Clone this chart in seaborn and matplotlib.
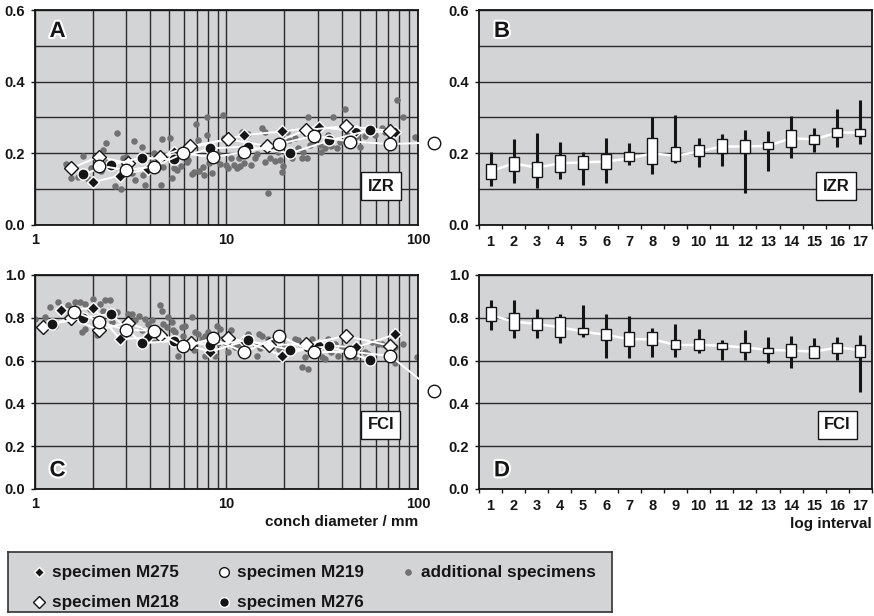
import matplotlib
matplotlib.use('Agg')  # headless
import numpy as np
import pandas as pd
import matplotlib.pyplot as plt
import matplotlib.patheffects as pe
from matplotlib.ticker import FixedLocator, NullFormatter, LogLocator
from matplotlib.lines import Line2D
import seaborn as sns

# ---- panel A (IZR vs conch diameter) ----
A_M275_d = [2.02, 2.78, 3.87, 5.35, 12.4, 19.5, 30.3, 47.6, 76.2]
A_M275_v = [0.120, 0.138, 0.157, 0.205, 0.251, 0.261, 0.274, 0.261, 0.260]
A_M218_d = [1.55, 2.15, 3.05, 4.47, 6.46, 10.2, 16.2, 26.1, 42.2, 71.1]
A_M218_v = [0.158, 0.191, 0.172, 0.191, 0.220, 0.239, 0.221, 0.265, 0.276, 0.263]
A_M219_d = [2.17, 2.99, 4.19, 5.96, 8.49, 12.4, 18.9, 28.5, 44.3, 71.7, 120.7]
A_M219_v = [0.166, 0.153, 0.163, 0.200, 0.189, 0.204, 0.226, 0.249, 0.233, 0.226, 0.230]
A_M276_d = [1.78, 2.50, 3.61, 5.35, 8.22, 13.0, 21.5, 34.5, 56.4]
A_M276_v = [0.142, 0.168, 0.188, 0.183, 0.214, 0.219, 0.200, 0.236, 0.265]

A_add_d = [1.46, 1.67, 1.79, 1.96, 2.27, 2.35, 2.67, 2.40, 2.62, 2.81, 2.89, 3.20, 3.30, 3.33,
           3.63, 3.68, 3.75, 3.94, 4.07, 4.55, 4.62, 5.07, 4.97, 4.68, 5.17, 5.49, 5.78, 6.03,
           6.32, 6.58, 6.79, 6.93, 7.13, 7.21, 7.57, 7.94, 7.94, 8.13, 8.71, 8.99, 9.25, 9.62,
           9.75, 9.91, 10.6, 11.0, 11.3, 11.6, 12.0, 12.4, 13.0, 13.5, 14.1, 14.5, 15.3, 15.8,
           15.9, 16.4, 16.9, 17.9, 19.0, 19.4, 19.8, 20.6, 21.2, 21.9, 22.8, 23.7, 24.7, 26.2,
           26.5, 27.3, 28.4, 30.8, 32.7, 34.0, 36.1, 37.6, 39.2, 41.6, 42.4, 45.0, 47.8, 49.8,
           52.9, 56.1, 59.6, 64.6, 67.3, 77.4, 83.8, 96.4,
           8.4, 7.6, 10.2, 11.8, 6.2, 5.3, 3.0, 2.2, 1.55, 1.9, 4.2, 12.8, 18.5, 25.0, 31.0,
           35.0, 44.0]
A_add_v = [0.169, 0.135, 0.193, 0.160, 0.209, 0.228, 0.258, 0.179, 0.110, 0.100, 0.188, 0.146,
           0.234, 0.126, 0.219, 0.140, 0.112, 0.156, 0.172, 0.113, 0.239, 0.244, 0.188, 0.163,
           0.130, 0.153, 0.166, 0.197, 0.181, 0.141, 0.147, 0.281, 0.237, 0.151, 0.163, 0.302,
           0.251, 0.172, 0.181, 0.197, 0.169, 0.307, 0.242, 0.167, 0.186, 0.167, 0.160, 0.186,
           0.260, 0.172, 0.253, 0.167, 0.186, 0.197, 0.270, 0.260, 0.177, 0.088, 0.188, 0.179,
           0.181, 0.149, 0.166, 0.259, 0.237, 0.186, 0.242, 0.214, 0.188, 0.188, 0.302, 0.223,
           0.233, 0.223, 0.214, 0.251, 0.302, 0.214, 0.233, 0.324, 0.251, 0.270, 0.247, 0.219,
           0.247, 0.274, 0.251, 0.270, 0.260, 0.349, 0.302, 0.245,
           0.145, 0.140, 0.160, 0.165, 0.175, 0.160, 0.190, 0.150, 0.130, 0.128, 0.200, 0.210,
           0.205, 0.205, 0.205, 0.220, 0.245]

# ---- panel C (FCI vs conch diameter) ----
C_M275_d = [1.37, 2.02, 2.78, 3.87, 5.35, 8.22, 12.4, 19.6, 30.3, 47.6, 76.2]
C_M275_v = [0.837, 0.845, 0.700, 0.708, 0.690, 0.642, 0.690, 0.622, 0.673, 0.662, 0.723]
C_M218_d = [1.105, 1.55, 2.15, 3.05, 4.47, 6.54, 10.2, 16.6, 26.1, 42.0, 71.1]
C_M218_v = [0.756, 0.800, 0.743, 0.778, 0.720, 0.681, 0.704, 0.673, 0.677, 0.715, 0.670]
C_M219_d = [1.60, 2.17, 2.99, 4.19, 5.96, 8.49, 12.4, 18.9, 28.5, 44.3, 71.7, 120.7]
C_M219_v = [0.829, 0.782, 0.743, 0.740, 0.666, 0.704, 0.639, 0.717, 0.639, 0.642, 0.622, 0.459]
C_M276_d = [1.23, 1.78, 2.50, 3.61, 5.35, 8.22, 13.0, 21.5, 34.5, 56.4]
C_M276_v = [0.770, 0.801, 0.818, 0.681, 0.692, 0.673, 0.694, 0.650, 0.666, 0.603]

C_add_d = [1.00, 1.13, 1.20, 1.32, 1.27, 1.49, 1.62, 1.72, 1.82, 1.82, 1.75, 1.94, 2.02, 2.18,
           2.27, 2.32, 2.46, 2.67, 2.51, 3.07, 3.20, 3.33, 3.75, 3.61, 3.91, 4.07, 4.50, 4.59,
           4.68, 4.87, 4.97, 5.17, 5.28, 5.38, 5.83, 5.95, 6.07, 5.60, 6.32, 6.58, 6.85, 7.13,
           7.42, 7.72, 8.04, 7.72, 8.71, 8.89, 9.25, 9.43, 9.82, 10.2, 10.6, 11.1, 11.5, 12.0,
           13.0, 14.1, 14.4, 14.7, 15.3, 16.5, 17.6, 18.7, 19.4, 20.2, 21.0, 22.8, 23.7, 24.7,
           25.7, 26.7, 27.9, 29.0, 31.4, 32.7, 34.0, 36.9, 38.4, 39.9, 43.3, 46.9, 49.8, 52.9,
           57.3, 62.1, 64.6, 70.0, 75.9, 83.8, 98.4,
           2.1, 2.2, 3.0, 3.5, 4.2, 6.8, 8.2, 9.0, 12.5, 15.0, 20.0, 28.0, 35.0, 45.0, 55.0, 76.0]
C_add_v = [0.795, 0.803, 0.850, 0.873, 0.764, 0.861, 0.873, 0.873, 0.866, 0.748, 0.733, 0.842,
           0.889, 0.866, 0.834, 0.881, 0.881, 0.827, 0.780, 0.819, 0.819, 0.788, 0.795, 0.741,
           0.772, 0.788, 0.858, 0.834, 0.772, 0.756, 0.803, 0.780, 0.741, 0.733, 0.756, 0.717,
           0.764, 0.623, 0.686, 0.803, 0.733, 0.725, 0.702, 0.717, 0.733, 0.623, 0.623, 0.764,
           0.748, 0.702, 0.686, 0.639, 0.741, 0.663, 0.678, 0.631, 0.725, 0.678, 0.623, 0.725,
           0.717, 0.702, 0.702, 0.655, 0.616, 0.670, 0.655, 0.702, 0.694, 0.569, 0.616, 0.561,
           0.702, 0.655, 0.616, 0.608, 0.702, 0.678, 0.623, 0.663, 0.616, 0.616, 0.670, 0.639,
           0.686, 0.678, 0.678, 0.623, 0.663, 0.678, 0.616,
           0.720, 0.760, 0.780, 0.810, 0.700, 0.650, 0.660, 0.680, 0.650, 0.660, 0.640, 0.640,
           0.640, 0.640, 0.630, 0.590]

# ---- panels B and D (per log interval) ----
intervals = list(range(1, 18))
B_wlo = [0.109, 0.116, 0.102, 0.128, 0.113, 0.116, 0.167, 0.141, 0.172, 0.163, 0.164, 0.090, 0.150, 0.188, 0.205, 0.219, 0.225]
B_blo = [0.127, 0.150, 0.134, 0.148, 0.156, 0.156, 0.178, 0.169, 0.179, 0.193, 0.200, 0.200, 0.211, 0.219, 0.226, 0.245, 0.247]
B_med = [0.150, 0.172, 0.160, 0.172, 0.175, 0.177, 0.186, 0.200, 0.193, 0.205, 0.219, 0.219, 0.221, 0.242, 0.239, 0.258, 0.258]
B_bhi = [0.169, 0.191, 0.177, 0.194, 0.193, 0.198, 0.203, 0.242, 0.217, 0.223, 0.239, 0.236, 0.231, 0.265, 0.251, 0.270, 0.268]
B_whi = [0.205, 0.239, 0.256, 0.233, 0.205, 0.244, 0.228, 0.301, 0.306, 0.244, 0.253, 0.264, 0.263, 0.303, 0.272, 0.323, 0.348]

D_wlo = [0.743, 0.705, 0.705, 0.684, 0.709, 0.611, 0.611, 0.616, 0.616, 0.635, 0.603, 0.603, 0.588, 0.565, 0.611, 0.603, 0.451]
D_blo = [0.785, 0.743, 0.743, 0.712, 0.725, 0.697, 0.666, 0.673, 0.655, 0.650, 0.655, 0.639, 0.635, 0.616, 0.611, 0.635, 0.616]
D_med = [0.813, 0.782, 0.771, 0.756, 0.736, 0.720, 0.700, 0.700, 0.673, 0.673, 0.670, 0.661, 0.650, 0.647, 0.642, 0.661, 0.650]
D_bhi = [0.852, 0.821, 0.801, 0.806, 0.751, 0.748, 0.733, 0.733, 0.694, 0.701, 0.684, 0.684, 0.661, 0.678, 0.666, 0.681, 0.673]
D_whi = [0.883, 0.883, 0.840, 0.818, 0.860, 0.818, 0.810, 0.751, 0.771, 0.746, 0.694, 0.743, 0.712, 0.715, 0.705, 0.709, 0.720]

BG = '#d3d4d6'
GRID = '#2b2b2b'
DOT = '#717171'
INK = '#151515'

sns.set_theme(style='ticks')
plt.rcParams['font.family'] = ['Liberation Sans', 'DejaVu Sans']
plt.rcParams['font.weight'] = 'bold'
plt.rcParams['axes.labelweight'] = 'bold'

W, H = 874, 616
fig = plt.figure(figsize=(W / 100, H / 100), dpi=100)


def px_axes(left, top, right, bottom):
    return fig.add_axes([left / W, 1 - bottom / H, (right - left) / W, (bottom - top) / H])


def base_style(ax, ymax, ystep, minor_step=None):
    ax.set_facecolor(BG)
    ax.set_axisbelow(True)
    for s in ax.spines.values():
        s.set_color(INK)
        s.set_linewidth(1.3)
    ax.set_ylim(0, ymax)
    ax.yaxis.set_major_locator(FixedLocator(np.round(np.arange(0, ymax + 1e-9, ystep), 2)))
    ax.yaxis.set_major_formatter(matplotlib.ticker.FormatStrFormatter('%.1f'))
    if minor_step:
        ax.yaxis.set_minor_locator(FixedLocator(np.arange(minor_step, ymax, ystep)))
    ax.grid(axis='y', which='both', color=GRID, lw=1.0)
    ax.tick_params(axis='y', which='major', labelsize=10.5, length=3, width=1, pad=4, colors=INK)
    ax.tick_params(axis='y', which='minor', length=0)


def log_panel(ax, ymax, ystep, minor_step, add_d, add_v, series):
    base_style(ax, ymax, ystep, minor_step)
    ax.set_xscale('log')
    ax.set_xlim(1, 100)
    ax.xaxis.set_major_locator(FixedLocator([1, 10, 100]))
    ax.xaxis.set_major_formatter(matplotlib.ticker.FixedFormatter(['1', '10', '100']))
    ax.xaxis.set_minor_locator(LogLocator(base=10, subs=range(2, 10)))
    ax.xaxis.set_minor_formatter(NullFormatter())
    ax.grid(axis='x', which='both', color=GRID, lw=1.0)
    ax.tick_params(axis='x', which='both', length=0, labelsize=10.5, pad=6, colors=INK)
    sns.scatterplot(x=add_d, y=add_v, ax=ax, color=DOT, s=22, linewidth=0, zorder=2)
    for (d, v, mk, fc, ec, ms, z) in series:
        sns.lineplot(x=d, y=v, ax=ax, color='white', lw=1.4, marker=mk, markersize=ms,
                     markerfacecolor=fc, markeredgecolor=ec, markeredgewidth=1.0,
                     estimator=None, sort=False, clip_on=False, zorder=z)


def box_panel(ax, ymax, ystep, minor_step, wlo, blo, med, bhi, whi):
    base_style(ax, ymax, ystep, minor_step)
    ax.set_xlim(0.5, 17.5)
    ax.xaxis.set_major_locator(FixedLocator(intervals))
    ax.xaxis.set_major_formatter(matplotlib.ticker.FixedFormatter([str(i) for i in intervals]))
    ax.xaxis.set_minor_locator(FixedLocator(np.arange(0.5, 18, 1)))
    ax.tick_params(axis='x', which='major', length=0, labelsize=10.5, pad=7, colors=INK)
    ax.tick_params(axis='x', which='minor', length=3, width=1, color=INK)
    ax.vlines(intervals, wlo, whi, color=INK, lw=2.2, zorder=2)
    sns.lineplot(x=intervals, y=med, ax=ax, color='white', lw=1.8, zorder=3)
    heights = [h - l for h, l in zip(bhi, blo)]
    ax.bar(intervals, heights, bottom=blo, width=0.43, color='white', edgecolor=INK,
           linewidth=1.0, zorder=4)


def tag(ax, text, x, y):
    ax.text(x, y, text, transform=ax.transAxes, ha='center', va='center', fontsize=12,
            fontweight='bold', color=INK, zorder=6,
            bbox=dict(boxstyle='square,pad=0.38', fc='white', ec=INK, lw=1.0))


def letter(ax, text, x, y):
    ax.text(x, y, text, transform=ax.transAxes, ha='left', va='center', fontsize=16,
            fontweight='bold', color=INK, zorder=6,
            path_effects=[pe.withStroke(linewidth=3, foreground='white')])


def specimen_set(m275d, m275v, m218d, m218v, m219d, m219v, m276d, m276v):
    return [
        (m275d, m275v, 'D', INK, 'white', 6.0, 4),
        (m218d, m218v, 'D', 'white', INK, 7.5, 5),
        (m276d, m276v, 'o', INK, 'white', 8.0, 6),
        (m219d, m219v, 'o', 'white', INK, 9.0, 7),
    ]


axA = px_axes(35, 10, 418, 225)
axB = px_axes(479, 10, 872, 225)
axC = px_axes(35, 275, 418, 489)
axD = px_axes(479, 275, 872, 489)

log_panel(axA, 0.6, 0.2, 0.1, A_add_d, A_add_v,
          specimen_set(A_M275_d, A_M275_v, A_M218_d, A_M218_v, A_M219_d, A_M219_v, A_M276_d, A_M276_v))
log_panel(axC, 1.0, 0.2, None, C_add_d, C_add_v,
          specimen_set(C_M275_d, C_M275_v, C_M218_d, C_M218_v, C_M219_d, C_M219_v, C_M276_d, C_M276_v))
box_panel(axB, 0.6, 0.2, 0.1, B_wlo, B_blo, B_med, B_bhi, B_whi)
box_panel(axD, 1.0, 0.2, None, D_wlo, D_blo, D_med, D_bhi, D_whi)

for ax in (axA, axB, axC, axD):
    ax.set_xlabel('')
    ax.set_ylabel('')

axC.set_xlabel('conch diameter / mm', loc='right', fontsize=11, labelpad=3, color=INK)
axD.set_xlabel('log interval', loc='right', fontsize=11, labelpad=3, color=INK)

tag(axA, 'IZR', 0.903, 0.18)
tag(axB, 'IZR', 0.908, 0.18)
tag(axC, 'FCI', 0.903, 0.30)
tag(axD, 'FCI', 0.912, 0.30)

letter(axA, 'A', 0.038, 0.90)
letter(axB, 'B', 0.038, 0.90)
letter(axC, 'C', 0.038, 0.085)
letter(axD, 'D', 0.038, 0.085)

# legend box
axL = px_axes(8, 552, 612, 612)
axL.set_facecolor(BG)
axL.set_xlim(0, 604)
axL.set_ylim(60, 0)
axL.set_xticks([])
axL.set_yticks([])
for s in axL.spines.values():
    s.set_color('#333333')
    s.set_linewidth(1.2)

legend_items = [
    ('specimen M275', 31, 20, 'D', INK, 'white', 5.5),
    ('specimen M218', 31, 50, 'D', 'white', INK, 6.0),
    ('specimen M219', 216, 20, 'o', 'white', INK, 7.0),
    ('specimen M276', 216, 50, 'o', INK, 'white', 7.0),
    ('additional specimens', 400, 20, 'o', DOT, DOT, 3.8),
]
for label, x, y, mk, fc, ec, ms in legend_items:
    axL.add_line(Line2D([x], [y], marker=mk, markersize=ms, markerfacecolor=fc,
                        markeredgecolor=ec, markeredgewidth=1.0, linestyle='none'))
    axL.text(x + 13, y, label, ha='left', va='center', fontsize=12.3, fontweight='bold', color=INK)

fig.savefig('out.png', dpi=100, facecolor='white')
